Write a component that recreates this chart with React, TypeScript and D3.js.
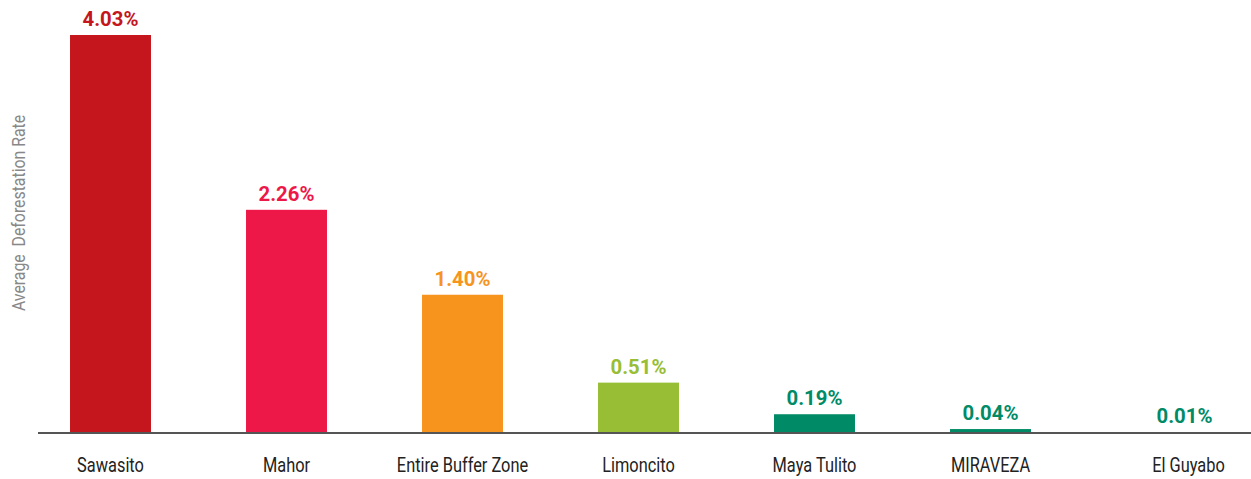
import React from "react";
import * as d3 from "d3";

const categories = ["Sawasito", "Mahor", "Entire Buffer Zone", "Limoncito", "Maya Tulito", "MIRAVEZA", "El Guyabo"];
const values = [4.03, 2.26, 1.40, 0.51, 0.19, 0.04, 0.01];
const colors = ["#C4161C", "#ED1847", "#F7941D", "#97BE34", "#008B66", "#008B66", "#008B66"];
const yLabel = "Average  Deforestation Rate";

const W = 1251, H = 479;
const FONT = "Roboto, sans-serif";

export default function App() {
  const x = d3.scaleBand<string>().domain(categories).range([22.5, 1254.5]).paddingInner(0.54).paddingOuter(0.27);
  const y = d3.scaleLinear().domain([0, 4.03]).range([433, 35]);
  const last = categories.length - 1;
  return (
    <svg width={W} height={H} style={{ position: "absolute", left: 0, top: 0 }}>
      {categories.map((c, i) => {
        const cx = (x(c) as number) + x.bandwidth() / 2;
        const vShift = i === last ? 18 : 0;
        const cShift = i === last ? 22 : 0;
        return (
          <g key={c}>
            <rect x={x(c)} y={y(values[i])} width={x.bandwidth()} height={Math.max(1, y(0) - y(values[i]))} fill={colors[i]} />
            <text transform={`translate(${cx + vShift},${y(values[i]) - 9}) scale(0.97,1)`} textAnchor="middle"
              fontFamily={FONT} fontWeight="bold" fontSize={21} fill={colors[i]}>
              {values[i].toFixed(2) + "%"}
            </text>
            <text transform={`translate(${cx + cShift},472) scale(0.78,1)`} textAnchor="middle"
              fontFamily={FONT} fontSize={21} fill="#222">
              {c}
            </text>
          </g>
        );
      })}
      <line x1={38} x2={1251} y1={433} y2={433} stroke="#555" strokeWidth={2} />
      <text transform="translate(25,213) rotate(-90) scale(0.88,1)" textAnchor="middle" fontFamily={FONT} fontSize={18} fill="#888" style={{ whiteSpace: "pre" }}>
        {yLabel}
      </text>
    </svg>
  );
}
